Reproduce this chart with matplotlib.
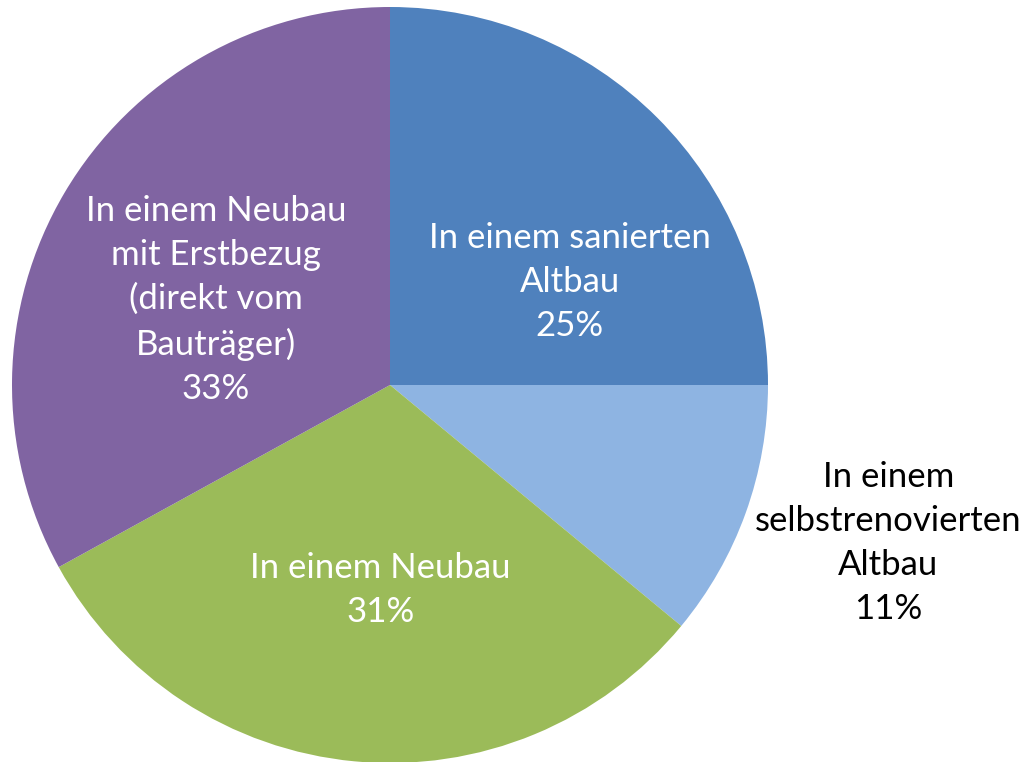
import matplotlib.pyplot as plt

categories = ['In einem sanierten\nAltbau', 'In einem\nselbstrenovierten\nAltbau',
              'In einem Neubau', 'In einem Neubau\nmit Erstbezug\n(direkt vom\nBauträger)']
values = [25, 11, 31, 33]
colors = ['#4F81BD', '#8EB4E2', '#9BBB59', '#8064A2']
text_colors = ['white', 'black', 'white', 'white']
# label anchor positions (in pie radius units)
label_pos = [(0.476, 0.272), (1.318, -0.418), (-0.026, -0.542), (-0.46, 0.225)]

fig = plt.figure(figsize=(10.26, 7.62), dpi=100)
ax = fig.add_axes([12 / 1026, -1 / 762, 756 / 1026, 756 / 762])

wedges, _ = ax.pie(values, colors=colors, startangle=90, counterclock=False,
                   radius=1.0, wedgeprops=dict(linewidth=0))

for cat, v, (x, y), tc in zip(categories, values, label_pos, text_colors):
    ax.text(x, y, f'{cat}\n{v}%', ha='center', va='center', color=tc,
            fontsize=25, family=['Lato', 'DejaVu Sans'], linespacing=1.46)

ax.set_xlim(-1, 1)
ax.set_ylim(-1, 1)
ax.set_aspect('equal')
ax.axis('off')

plt.savefig('out.png', dpi=100)
